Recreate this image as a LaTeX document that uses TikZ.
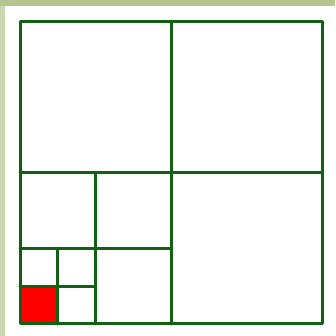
\documentclass[tikz,border=0pt]{standalone}
\definecolor{gridgreen}{RGB}{18,96,18}
\definecolor{framegreen}{RGB}{182,197,142}
\begin{document}
\begin{tikzpicture}[x=1pt,y=1pt,line cap=round,line join=round]
        \useasboundingbox (0,0) rectangle (335,336);
        \fill[white] (0,0) rectangle (335,336);
        \fill[framegreen] (0,330) rectangle (335,336);
        \fill[framegreen!70] (0,0) rectangle (5,330);

        \coordinate (O) at (20,12);

        % smallest square
        \fill[red] (O) rectangle ++(37.75,37.75);

        \draw[gridgreen,line width=3pt] (O) rectangle ++(302,302);
        \foreach \s in {151,75.5,37.75} {
            \draw[gridgreen,line width=3pt] (O) ++(\s,0) -- ++(0,2*\s);
            \draw[gridgreen,line width=3pt] (O) ++(0,\s) -- ++(2*\s,0);
        }
    \end{tikzpicture}
\end{document}
